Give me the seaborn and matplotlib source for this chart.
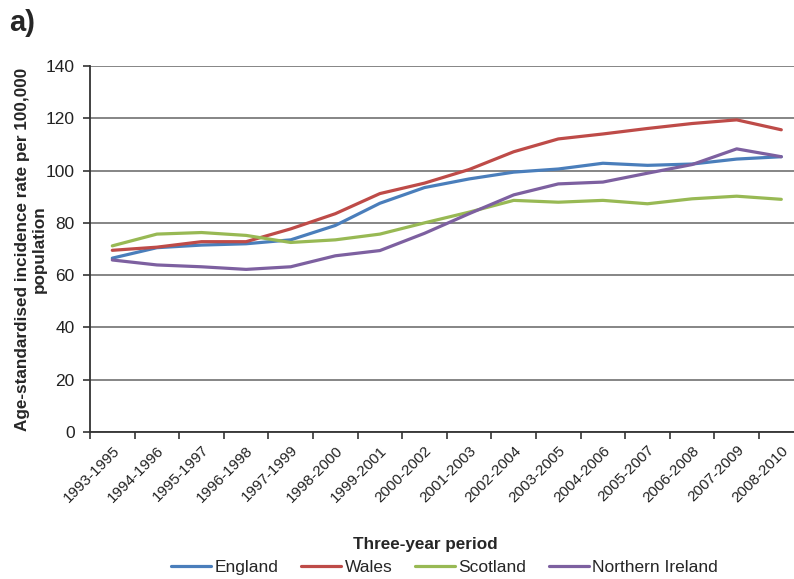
import matplotlib
matplotlib.use("Agg")
import matplotlib.pyplot as plt
import seaborn as sns
import pandas as pd
from matplotlib.ticker import MultipleLocator, FixedLocator

periods = ["1993-1995", "1994-1996", "1995-1997", "1996-1998", "1997-1999",
           "1998-2000", "1999-2001", "2000-2002", "2001-2003", "2002-2004",
           "2003-2005", "2004-2006", "2005-2007", "2006-2008", "2007-2009",
           "2008-2010"]
england = [66.5, 70.5, 71.5, 72.0, 73.5, 79.0, 87.5, 93.5, 96.8, 99.4,
           100.6, 102.8, 102.0, 102.5, 104.4, 105.3]
wales = [69.5, 70.7, 72.8, 72.8, 77.7, 83.5, 91.2, 95.2, 100.4, 107.2,
         112.1, 114.0, 116.1, 118.0, 119.4, 115.6]
scotland = [71.2, 75.7, 76.3, 75.2, 72.5, 73.5, 75.7, 80.0, 84.1, 88.6,
            87.9, 88.6, 87.3, 89.2, 90.2, 89.0]
northern_ireland = [65.8, 63.9, 63.2, 62.2, 63.2, 67.4, 69.4, 76.0, 83.5, 90.7,
                    94.9, 95.6, 99.0, 102.3, 108.3, 105.3]

countries = ["England", "Wales", "Scotland", "Northern Ireland"]
series = [england, wales, scotland, northern_ireland]
colors = ["#4A7EBB", "#BE4B48", "#98B954", "#7D60A0"]

rows = []
for name, vals in zip(countries, series):
    for i, (p, v) in enumerate(zip(periods, vals)):
        rows.append({"idx": i, "period": p, "country": name, "rate": v})
df = pd.DataFrame(rows)

sns.set_theme(style="white")
plt.rcParams["font.family"] = ["Liberation Sans", "DejaVu Sans"]

W, H = 794, 579
fig = plt.figure(figsize=(W / 100, H / 100), dpi=100)
left, right, top, bottom = 90, 803.6, 66, 432
ax = fig.add_axes([left / W, 1 - bottom / H, (right - left) / W, (bottom - top) / H])

sns.lineplot(data=df, x="idx", y="rate", hue="country", hue_order=countries,
             palette=colors, linewidth=2.3, ax=ax, legend=True)

ax.set_xlim(-0.5, len(periods) - 0.5)
ax.set_ylim(0, 140)
ax.yaxis.set_major_locator(MultipleLocator(20))
ax.grid(axis="y", color="#858585", linewidth=1.4)
ax.set_axisbelow(True)

for side in ["top", "right"]:
    ax.spines[side].set_visible(False)
for side in ["left", "bottom"]:
    ax.spines[side].set_color("#333333")
    ax.spines[side].set_linewidth(1.3)

# category labels at centres, tick marks at boundaries
ax.set_xticks(range(len(periods)))
ax.set_xticklabels(periods, rotation=45, ha="right", rotation_mode="anchor",
                   fontsize=11, color="#222222")
ax.tick_params(axis="x", which="major", length=0, pad=8)
ax.xaxis.set_minor_locator(FixedLocator([i - 0.5 for i in range(len(periods) + 1)]))
ax.tick_params(axis="x", which="minor", bottom=True, length=5, width=1.2,
               color="#333333")
ax.tick_params(axis="y", left=True, length=5, width=1.2, color="#333333",
               labelsize=12.5, labelcolor="#222222", pad=6)

ax.set_xlabel("")
ax.set_ylabel("Age-standardised incidence rate per 100,000\npopulation",
              fontsize=12.3, fontweight="bold", linespacing=1.2)
ax.yaxis.set_label_coords((47 - left) / (right - left), 0.5)

fig.text(425 / W, 1 - 545 / H, "Three-year period", ha="center", va="center",
         fontsize=12.3, fontweight="bold")
fig.text(9 / W, 1 - 23 / H, "a)", ha="left", va="center",
         fontsize=21, fontweight="bold")

handles, labels = ax.get_legend_handles_labels()
ax.legend_.remove()
fig.legend(handles, labels, loc="center", bbox_to_anchor=(444.5 / W, 1 - 567 / H),
           ncol=4, frameon=False, fontsize=12.5, handlelength=2.3,
           handletextpad=0.2, columnspacing=1.3, borderaxespad=0,
           borderpad=0)

fig.savefig("out.png", dpi=100)
